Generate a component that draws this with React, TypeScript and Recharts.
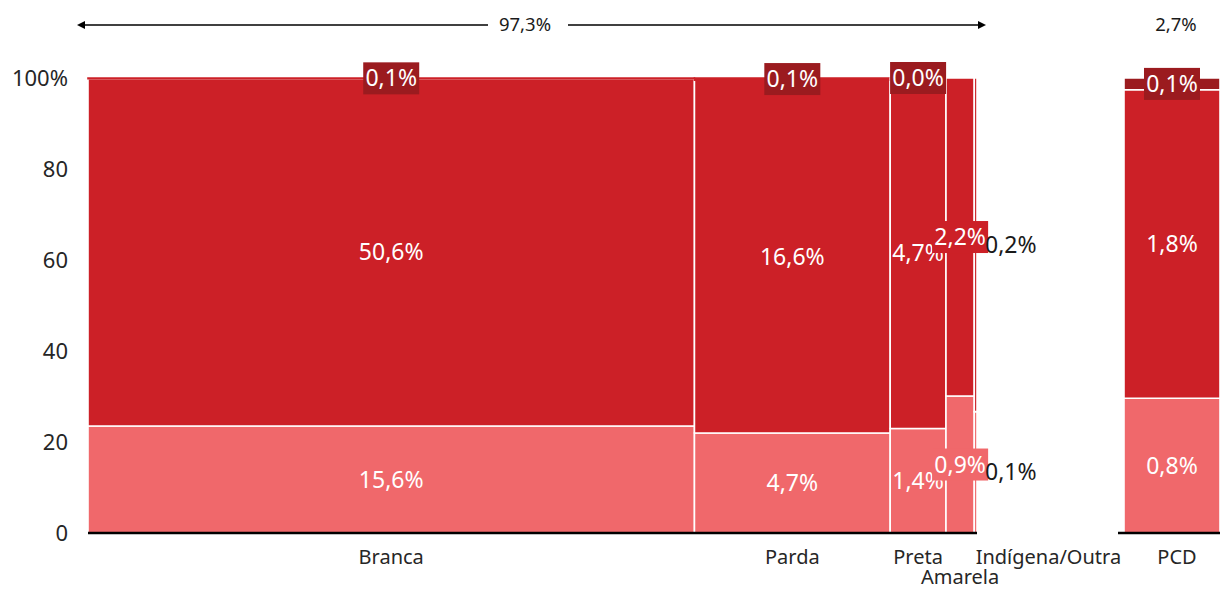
import React from 'react';
import { ComposedChart, XAxis, YAxis, ReferenceArea } from 'recharts';

// ---------- data ----------
const categories = ['Branca', 'Parda', 'Preta', 'Amarela', 'Indígena/Outra'];
const lowerShare = [15.6, 4.7, 1.4, 0.93, 0.08];
const middleShare = [50.6, 16.6, 4.7, 2.16, 0.22];
const topShare: (number | null)[] = [0.1, 0.1, 0.0, null, null];

const pcdCategory = ['PCD'];
const pcdShares = [0.8, 1.83, 0.07]; // lower, middle, top

const yTicks = [0, 20, 40, 60, 80, 100];
const groupLabels = ['97,3%', '2,7%'];

// ---------- styles ----------
const FONT = "'Noto Sans', sans-serif";
const LIGHT = '#F0686B';
const MID = '#CC2027';
const DARK = '#9B1B1F';
const SEG_COLORS = [LIGHT, MID, DARK];
// label mode per main category
const labelModes = ['inside', 'inside', 'inside', 'boxed', 'outside'];

const fmt = (v: number) => v.toFixed(1).replace('.', ',') + '%';

type Seg = { x1: number; x2: number; y1: number; y2: number; color: string; value: number; level: number };

function buildColumns(groups: (number | null)[][], start = 0) {
  let cum = start;
  const cols: { x0: number; x1: number; center: number; segs: Seg[] }[] = [];
  groups.forEach((vals) => {
    const present = vals.map((v) => (v == null ? 0 : v));
    const total = present.reduce((a, b) => a + b, 0);
    let acc = 0;
    const segs: Seg[] = [];
    vals.forEach((v, level) => {
      if (v == null) return;
      const y1 = (acc / total) * 100;
      acc += v;
      const y2 = (acc / total) * 100;
      segs.push({ x1: cum, x2: cum + total, y1, y2, color: SEG_COLORS[level], value: v, level });
    });
    cols.push({ x0: cum, x1: cum + total, center: cum + total / 2, segs });
    cum += total;
  });
  return { cols, total: cum };
}

const main = buildColumns(categories.map((_, i) => [lowerShare[i], middleShare[i], topShare[i]]));
const pcd = buildColumns([pcdShares]);

const mainData = main.cols.map((c, i) => ({ name: categories[i], center: c.center }));
const pcdData = pcd.cols.map((c, i) => ({ name: pcdCategory[i], center: c.center }));

const makeLabel = (text: string, mode: string, boxFill: string) => (props: any) => {
  const vb = props.viewBox || {};
  const { x = 0, y = 0, width = 0, height = 0 } = vb;
  const cx = x + width / 2;
  const cy = y + height / 2;
  if (mode === 'outside') {
    return (
      <text x={x + width + 8} y={cy} dy="0.35em" textAnchor="start" fill="#1a1a1a" fontSize={23} fontFamily={FONT}>
        {text}
      </text>
    );
  }
  if (mode === 'boxed') {
    return (
      <g>
        <rect x={cx - 28} y={cy - 16} width={56} height={32} fill={boxFill} />
        <text x={cx} y={cy} dy="0.35em" textAnchor="middle" fill="#fff" fontSize={23} fontFamily={FONT}>
          {text}
        </text>
      </g>
    );
  }
  return (
    <text x={cx} y={cy} dy="0.35em" textAnchor="middle" fill="#fff" fontSize={23} fontFamily={FONT}>
      {text}
    </text>
  );
};

function renderRects(cols: { segs: Seg[] }[]) {
  const out: React.ReactNode[] = [];
  cols.forEach((c, ci) =>
    c.segs.forEach((s, si) => {
      const thin = s.y2 - s.y1 < 1;
      out.push(
        <ReferenceArea
          key={`r-${ci}-${si}`}
          x1={s.x1}
          x2={s.x2}
          y1={s.y1}
          y2={s.y2}
          fill={thin ? MID : s.color}
          fillOpacity={1}
          stroke={thin ? MID : '#fff'}
          strokeWidth={1.6}
          strokeOpacity={1}
          isAnimationActive={false}
        />
      );
    })
  );
  return out;
}

function renderLabels(cols: { segs: Seg[] }[], modes: string[]) {
  const out: React.ReactNode[] = [];
  cols.forEach((c, ci) =>
    c.segs.forEach((s, si) => {
      let mode = modes[ci];
      let box = s.color;
      if (s.level === 2) {
        mode = 'boxed';
        box = DARK;
      }
      out.push(
        <ReferenceArea
          key={`l-${ci}-${si}`}
          x1={s.x1}
          x2={s.x2}
          y1={s.y1}
          y2={s.y2}
          fill="none"
          fillOpacity={0}
          strokeOpacity={0}
          label={makeLabel(fmt(s.value), mode, box)}
        />
      );
    })
  );
  return out;
}

const MainTick = (props: any) => {
  const { x, y, index } = props;
  const name = categories[index];
  const isAmarela = name === 'Amarela';
  const isInd = name === 'Indígena/Outra';
  return (
    <text
      x={x}
      y={y}
      dy={isAmarela ? 51 : 31}
      textAnchor={isInd ? 'start' : 'middle'}
      fill="#262626"
      fontSize={20}
      fontFamily={FONT}
    >
      {name}
    </text>
  );
};

const PcdTick = (props: any) => {
  const { x, y, index } = props;
  return (
    <text x={x + 5} y={y} dy={31} textAnchor="middle" fill="#262626" fontSize={20} fontFamily={FONT}>
      {pcdCategory[index]}
    </text>
  );
};

export default function App() {
  return (
    <div style={{ position: 'absolute', left: 0, top: 0, width: 1220, height: 589, background: '#fff', fontFamily: FONT }}>
      <div style={{ position: 'absolute', left: 0, top: 0 }}>
        <ComposedChart width={1220} height={589} data={mainData} margin={{ top: 78, right: 243, bottom: 0, left: 10 }}>
          <XAxis
            type="number"
            dataKey="center"
            domain={[0, main.total]}
            ticks={main.cols.map((c) => c.center)}
            interval={0}
            tickLine={false}
            tickSize={0}
            tickMargin={0}
            axisLine={{ stroke: '#000', strokeWidth: 2.5 }}
            height={56}
            tick={<MainTick />}
            allowDataOverflow
          />
          <YAxis
            type="number"
            domain={[0, 100]}
            ticks={yTicks}
            interval={0}
            tickFormatter={(v: number) => (v === 100 ? '100%' : String(v))}
            axisLine={false}
            tickLine={false}
            tickSize={0}
            tickMargin={20}
            width={78}
            tick={{ fontSize: 22, fill: '#262626', fontFamily: FONT }}
            allowDataOverflow
          />
          {renderRects(main.cols)}
          {renderLabels(main.cols, labelModes)}
        </ComposedChart>
      </div>
      <div style={{ position: 'absolute', left: 1100, top: 0 }}>
        <ComposedChart width={120} height={589} data={pcdData} margin={{ top: 78, right: 0, bottom: 0, left: 18 }}>
          <XAxis
            type="number"
            dataKey="center"
            domain={[0, pcd.total]}
            ticks={pcd.cols.map((c) => c.center)}
            interval={0}
            padding={{ left: 6, right: 0 }}
            tickLine={false}
            tickSize={0}
            tickMargin={0}
            axisLine={{ stroke: '#000', strokeWidth: 2.5 }}
            height={56}
            tick={<PcdTick />}
            allowDataOverflow
          />
          <YAxis type="number" domain={[0, 100]} hide allowDataOverflow />
          {renderRects(pcd.cols)}
          {renderLabels(pcd.cols, ['inside'])}
        </ComposedChart>
      </div>
      <svg width={1220} height={60} style={{ position: 'absolute', left: 0, top: 0 }}>
        <line x1={80} y1={25} x2={488} y2={25} stroke="#000" strokeWidth={1.3} />
        <line x1={568} y1={25} x2={982} y2={25} stroke="#000" strokeWidth={1.3} />
        <path d="M77,25 L85,21 L85,29 Z" fill="#000" />
        <path d="M986,25 L978,21 L978,29 Z" fill="#000" />
        <text x={525} y={25} dy="0.35em" textAnchor="middle" fontSize={18.5} fill="#1a1a1a" fontFamily={FONT}>
          {groupLabels[0]}
        </text>
        <text x={1176} y={25} dy="0.35em" textAnchor="middle" fontSize={18.5} fill="#1a1a1a" fontFamily={FONT}>
          {groupLabels[1]}
        </text>
      </svg>
    </div>
  );
}
